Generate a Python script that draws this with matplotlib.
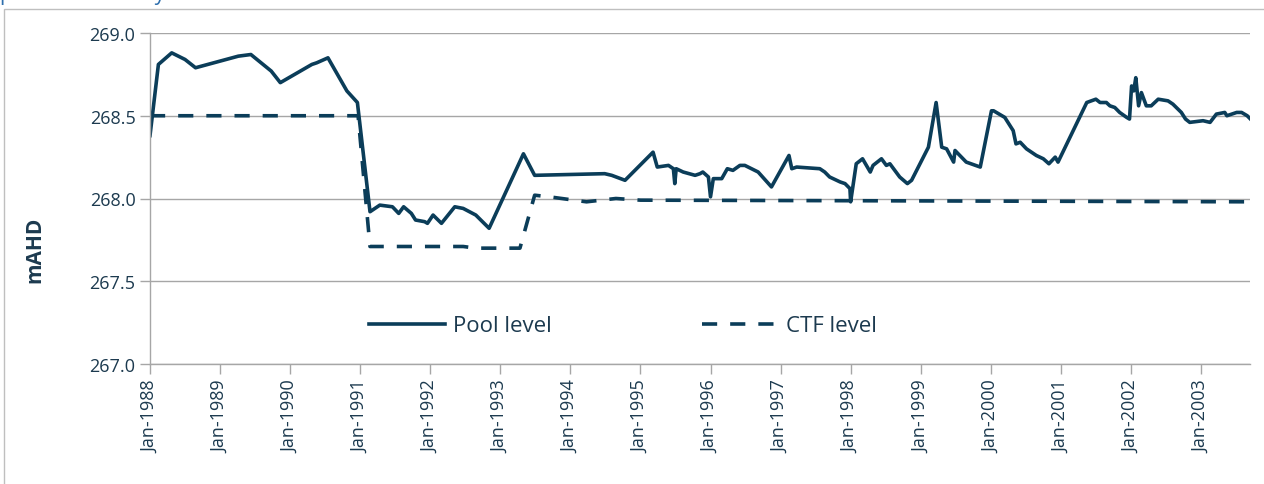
import matplotlib
matplotlib.use("Agg")
import matplotlib.pyplot as plt
from matplotlib.patches import Rectangle

# decimal years since Jan-1988, pool level (mAHD)
pool_t = [0.00, 0.12, 0.31, 0.50, 0.65, 1.26, 1.44, 1.73, 1.86, 2.31, 2.38, 2.54, 2.81, 2.96,
          3.14, 3.28, 3.46, 3.55, 3.62, 3.73, 3.79, 3.92, 3.96, 4.04, 4.16, 4.35, 4.47, 4.65,
          4.84, 5.33, 5.49, 6.49, 6.59, 6.78, 7.18, 7.24, 7.40, 7.47, 7.49, 7.51, 7.61, 7.78,
          7.85, 7.89, 7.97, 8.00, 8.04, 8.16, 8.24, 8.32, 8.42, 8.49, 8.68, 8.87, 9.12, 9.16,
          9.23, 9.56, 9.63, 9.70, 9.85, 9.92, 9.99, 10.00, 10.08, 10.17, 10.28, 10.32, 10.44,
          10.51, 10.56, 10.70, 10.81, 10.87, 11.11, 11.22, 11.30, 11.37, 11.47, 11.49, 11.65,
          11.85, 12.01, 12.04, 12.20, 12.32, 12.36, 12.42, 12.51, 12.65, 12.75, 12.83, 12.92,
          12.96, 13.37, 13.50, 13.56, 13.65, 13.70, 13.77, 13.84, 13.94, 13.98, 14.01, 14.04,
          14.07, 14.11, 14.15, 14.22, 14.29, 14.39, 14.53, 14.60, 14.72, 14.78, 14.84, 15.03,
          15.13, 15.22, 15.34, 15.37, 15.51, 15.58, 15.66, 15.73]
pool_v = [268.38, 268.81, 268.88, 268.84, 268.79, 268.86, 268.87, 268.77, 268.70, 268.81, 268.82, 268.85, 268.65, 268.58,
          267.92, 267.96, 267.95, 267.91, 267.95, 267.91, 267.87, 267.86, 267.85, 267.90, 267.85, 267.95, 267.94, 267.90,
          267.82, 268.27, 268.14, 268.15, 268.14, 268.11, 268.28, 268.19, 268.20, 268.18, 268.09, 268.18, 268.16, 268.14,
          268.15, 268.16, 268.13, 268.01, 268.12, 268.12, 268.18, 268.17, 268.20, 268.20, 268.16, 268.07, 268.26, 268.18,
          268.19, 268.18, 268.16, 268.13, 268.10, 268.09, 268.06, 267.98, 268.21, 268.24, 268.16, 268.20, 268.24,
          268.20, 268.21, 268.13, 268.09, 268.11, 268.31, 268.58, 268.31, 268.30, 268.22, 268.29, 268.22,
          268.19, 268.53, 268.53, 268.49, 268.41, 268.33, 268.34, 268.30, 268.26, 268.24, 268.21, 268.25,
          268.22, 268.58, 268.60, 268.58, 268.58, 268.56, 268.55, 268.52, 268.49, 268.48, 268.68, 268.65,
          268.73, 268.56, 268.64, 268.56, 268.56, 268.60, 268.59, 268.57, 268.52, 268.48, 268.46, 268.47,
          268.46, 268.51, 268.52, 268.50, 268.52, 268.52, 268.50, 268.47]

ctf_t = [0.00, 2.97, 3.14, 4.47, 4.65, 5.28, 5.49, 5.70, 6.23, 6.65, 7.00, 15.73]
ctf_v = [268.50, 268.50, 267.71, 267.71, 267.70, 267.70, 268.02, 268.01, 267.98, 268.00, 267.99, 267.98]

years = list(range(1988, 2004))
year_labels = ["Jan-%d" % y for y in years]

txt = "#1c3a4f"
navy = "#0b3d59"
grey = "#a6a6a6"

plt.rcParams["font.family"] = ["Open Sans", "DejaVu Sans"]

fig = plt.figure(figsize=(12.64, 4.85), dpi=100)
ax = fig.add_axes([150 / 1264, 1 - 365 / 485, 1100 / 1264, 331 / 485])

ax.plot(pool_t, pool_v, color=navy, lw=2.6, label="Pool level", solid_joinstyle="round")
ax.plot(ctf_t, ctf_v, color=navy, lw=2.6, dashes=(4.2, 3.6), label="CTF level")

ax.set_xlim(0, 15.70)
ax.set_ylim(267.0, 269.0)
ax.set_yticks([267.0, 267.5, 268.0, 268.5, 269.0])
ax.set_yticklabels(["%.1f" % v for v in [267.0, 267.5, 268.0, 268.5, 269.0]])
ax.set_xticks([y - 1988 for y in years])
ax.set_xticklabels(year_labels, rotation=90)
ax.tick_params(axis="both", colors=grey, labelcolor=txt, labelsize=13, length=7, width=1)
ax.tick_params(axis="x", pad=4)
ax.grid(axis="y", color=grey, lw=1)
ax.set_axisbelow(True)
for s in ["top", "right"]:
    ax.spines[s].set_visible(False)
for s in ["left", "bottom"]:
    ax.spines[s].set_color(grey)
    ax.spines[s].set_linewidth(1)

ax.legend(loc="center", bbox_to_anchor=(0.43, 0.115), ncol=2, frameon=False,
          fontsize=16, handlelength=3.4, handletextpad=0.35, columnspacing=6.8,
          labelcolor=txt)

fig.text(35 / 1264, 1 - 250 / 485, "mAHD", rotation=90, ha="center", va="center",
         fontsize=15, fontweight="bold", color=txt)

# cut-off title at the top edge
fig.text(0.0, 1.0, "pool level history", ha="left", va="baseline", fontsize=15, color="#2e6fad")

# outer border, cropped on the right and bottom
fig.patches.append(Rectangle((4 / 1264, -0.1), 1.2, 1.1 - 10 / 485, transform=fig.transFigure,
                             fill=False, edgecolor="#bfbfbf", lw=1))

fig.savefig("out.png", dpi=100)
